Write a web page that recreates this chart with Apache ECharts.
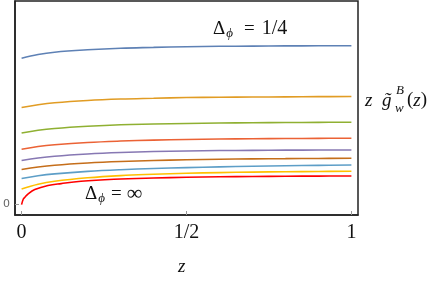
<!DOCTYPE html>
<html>
<head>
<meta charset="utf-8">
<script src="https://cdn.jsdelivr.net/npm/echarts@6/dist/echarts.min.js"></script>
<style>html,body{margin:0;padding:0;background:#fff;}#c{width:436px;height:286px;}</style>
</head>
<body>
<div id="c"></div>
<script>
// x positions (z) shared by the smooth curves
const zVals = [0, 0.05, 0.1, 0.2, 0.3, 0.4, 0.5, 0.6, 0.7, 0.8, 0.9, 1];
// curve values (arbitrary units; 0 at the labelled tick)
const curve1 = [146.3, 150, 152.3, 154.7, 156.3, 157.1, 157.8, 158.2, 158.4, 158.6, 158.7, 158.8]; // Δφ = 1/4
const curve2 = [97, 99.8, 101.8, 104.1, 105.5, 106.3, 107, 107.3, 107.5, 107.7, 107.9, 108];
const curve3 = [71.6, 74.3, 76.1, 78.3, 79.8, 80.5, 81.1, 81.5, 81.8, 82, 82.2, 82.3];
const curve4 = [55.3, 58, 59.8, 62.1, 63.5, 64.4, 65.1, 65.5, 65.8, 66, 66.2, 66.3];
const curve5 = [44, 46.5, 48.3, 50.5, 52, 53, 53.6, 54, 54.2, 54.4, 54.5, 54.6];
const curve6 = [35, 37.5, 39.3, 41.5, 43, 44, 44.8, 45.3, 45.7, 45.9, 46.1, 46.3];
const curve7 = [26, 28.8, 30.7, 33.2, 34.9, 36.1, 37, 37.7, 38.3, 38.8, 39.2, 39.6];
const curve8 = [15.6, 20.3, 23.3, 26.8, 29, 30.3, 31.3, 32, 32.5, 32.8, 33.1, 33.3];
// Δφ = ∞ curve (own z grid, steep near 0)
const zInf = [0, 0.005, 0.01, 0.02, 0.04, 0.08, 0.12, 0.18, 0.28, 0.4, 0.5, 0.6, 0.7, 0.8, 0.9, 1];
const curveInf = [0, 5.3, 7.3, 10.8, 15, 19, 21, 23.3, 25.3, 26.6, 27.3, 27.8, 28.1, 28.3, 28.5, 28.6];
const xTicks = [0, 0.5, 1];
const xTickLabels = {0: '0', 0.5: '1/2', 1: '1'};
const yTicks = [0];

const colors = ['#5E81B5', '#E19C24', '#8FB032', '#EB6235', '#8778B3', '#C56E1A', '#5D9EC7', '#FFBF00'];
const curves = [curve1, curve2, curve3, curve4, curve5, curve6, curve7, curve8];

const series = curves.map((c, i) => ({
  type: 'line', smooth: 0.4, symbol: 'none',
  data: zVals.map((z, j) => [z, c[j]]),
  lineStyle: {color: colors[i], width: 1.6}
}));
series.push({
  type: 'line', smooth: 0.4, symbol: 'none',
  data: zInf.map((z, j) => [z, curveInf[j]]),
  lineStyle: {color: '#FF0000', width: 1.6}
});

const ink = '#111';
const mainTxt = {font: '19px "Liberation Serif"', fill: ink};
const itTxt = {font: 'italic 19px "Liberation Serif"', fill: ink};
const subTxt = {font: 'italic 13px "Liberation Serif"', fill: ink};
const chart = echarts.init(document.getElementById('c'), null, {renderer: 'canvas'});
chart.setOption({
  animation: false,
  grid: {left: 11, right: 78, top: 1, bottom: 71, show: true, borderColor: '#222', borderWidth: 1.5, backgroundColor: '#fff'},
  xAxis: {
    type: 'value', min: -0.02, max: 1.02,
    axisLine: {show: true, onZero: false, lineStyle: {color: '#222', width: 1.5}},
    splitLine: {show: false},
    axisTick: {show: true, inside: true, length: 4, customValues: xTicks, lineStyle: {color: '#999'}},
    axisLabel: {customValues: xTicks, formatter: v => xTickLabels[v] !== undefined ? xTickLabels[v] : '',
      fontFamily: 'Liberation Serif', fontSize: 20, color: ink, margin: 8}
  },
  yAxis: {
    type: 'value', min: -10.4, max: 203.5,
    axisLine: {show: true, onZero: false, lineStyle: {color: '#222', width: 1.5}},
    splitLine: {show: false},
    axisTick: {show: true, inside: true, length: 4, customValues: yTicks, lineStyle: {color: '#999'}},
    axisLabel: {customValues: yTicks, formatter: v => String(v), fontFamily: 'DejaVu Sans', fontSize: 11, color: '#666', margin: 5}
  },
  series: series,
  graphic: [
    {type: 'text', left: 213, top: 19, style: {
      text: '{a|Δ}{s|ϕ}{a|=}{b|1/4}',
      rich: {a: mainTxt, s: Object.assign({}, subTxt, {padding: [9, 11, 0, 1]}),
             b: {font: '20px "Liberation Serif"', fill: ink, padding: [0, 0, 0, 7]}}
    }},
    {type: 'text', left: 85, top: 183, style: {
      text: '{a|Δ}{s|ϕ}{a|=}{b|∞}',
      rich: {a: mainTxt, s: Object.assign({}, subTxt, {padding: [9, 6, 0, 1]}),
             b: {font: '22px "Liberation Serif"', fill: ink, padding: [0, 0, 0, 5]}}
    }},
    {type: 'text', left: 365, top: 91, style: Object.assign({text: 'z'}, itTxt)},
    {type: 'text', left: 382, top: 91, style: Object.assign({text: 'g̃'}, itTxt)},
    {type: 'text', left: 396, top: 84, style: Object.assign({text: 'B'}, subTxt)},
    {type: 'text', left: 395, top: 102, style: Object.assign({text: 'w'}, subTxt)},
    {type: 'text', left: 407, top: 91, style: {text: '{p|(}{i|z}{p|)}', rich: {p: mainTxt, i: itTxt}}},
    {type: 'text', left: 178, top: 257, style: Object.assign({text: 'z'}, itTxt)}
  ]
});
</script>
</body>
</html>
